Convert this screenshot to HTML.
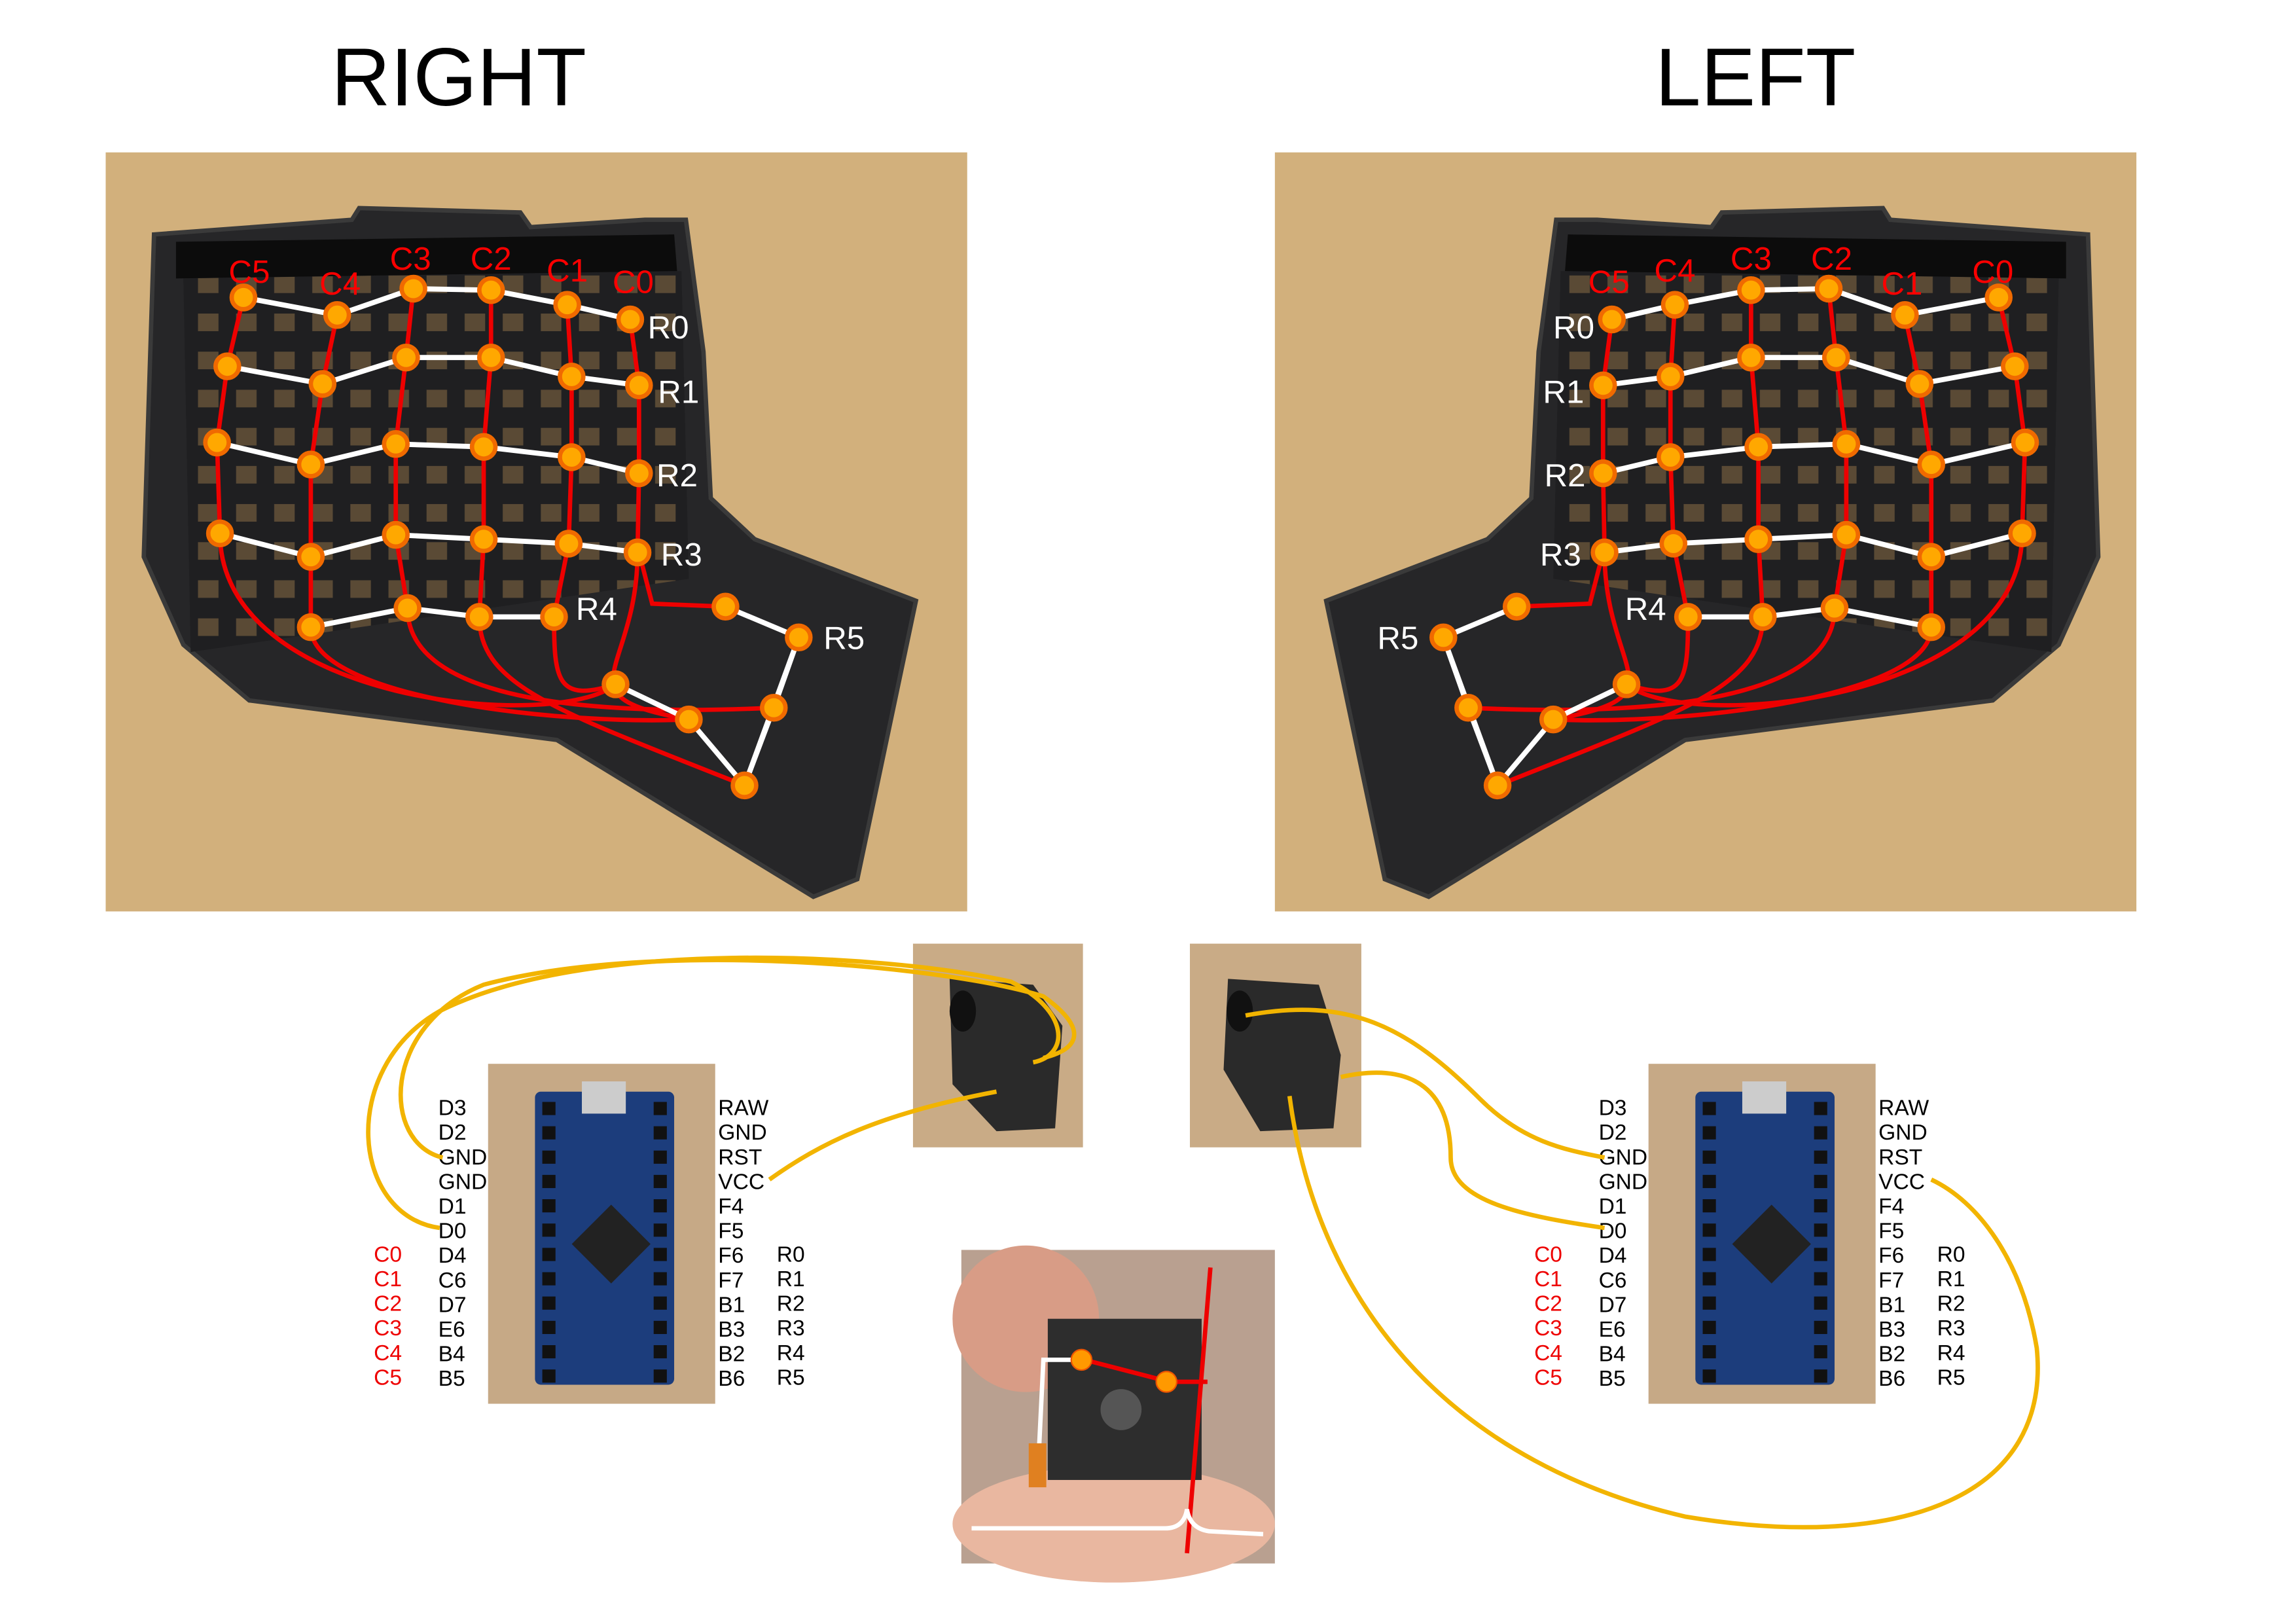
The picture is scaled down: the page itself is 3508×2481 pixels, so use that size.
<!DOCTYPE html>
<html><head><meta charset="utf-8"><style>
html,body{margin:0;padding:0;background:#fff}
svg{display:block}
text{font-family:"Liberation Sans",sans-serif}
</style></head><body>
<svg id="s" width="3508" height="2481" viewBox="0 0 1548 1095" xmlns="http://www.w3.org/2000/svg">
<defs>
<pattern id="grid" width="26" height="26" patternUnits="userSpaceOnUse"><rect width="26" height="26" fill="#1f1f21"/><rect x="5" y="6" width="14" height="12" fill="#5a4a35"/></pattern>
</defs>
<g transform="scale(0.988)">
<text x="313" y="72" font-size="56" text-anchor="middle">RIGHT</text>
<text x="1198" y="72" font-size="56" text-anchor="middle">LEFT</text>
<g id="photoR"></g>
<g id="photoL"></g>
<g>
<rect x="623" y="644" width="116" height="139" fill="#c9ab86"/>
<path d="M648 668 L705 672 L725 700 L720 770 L680 772 L650 740 Z" fill="#2a2a2a"/>
<ellipse cx="657" cy="690" rx="9" ry="14" fill="#111"/>
</g>
<g>
<rect x="812" y="644" width="117" height="139" fill="#c9ab86"/>
<path d="M838 668 L900 672 L915 720 L910 770 L860 772 L835 730 Z" fill="#2a2a2a"/>
<ellipse cx="846" cy="690" rx="9" ry="14" fill="#111"/>
</g>
<g>
<rect x="656" y="853" width="214" height="214" fill="#b9a090"/>
<ellipse cx="760" cy="1040" rx="110" ry="40" fill="#e9b7a0"/>
<ellipse cx="700" cy="900" rx="50" ry="50" fill="#d89c86"/>
<rect x="715" y="900" width="105" height="110" fill="#2d2d2d"/>
<circle cx="765" cy="962" r="14" fill="#555"/>
<line x1="826" y1="865" x2="810" y2="1060" stroke="#e00" stroke-width="3"/>
<line x1="740" y1="928" x2="798" y2="943" stroke="#e00" stroke-width="3"/>
<line x1="798" y1="943" x2="824" y2="943" stroke="#e00" stroke-width="3"/>
<polyline points="738,928 712,928 708,1010" fill="none" stroke="#fff" stroke-width="3"/>
<rect x="702" y="985" width="12" height="30" fill="#e08020"/>
<path d="M663 1043 L795 1043 Q808 1043 810 1030 Q812 1043 825 1045 L862 1047" fill="none" stroke="#fff" stroke-width="3"/>
<circle cx="738" cy="928" r="7" fill="#f90" stroke="#e50"/>
<circle cx="796" cy="943" r="7" fill="#f90" stroke="#e50"/>
</g>
<g id="boards"></g>
<g fill="none" stroke="#f2b400" stroke-width="3">
<path d="M300 838 C240 830 230 730 300 690 C400 640 600 650 690 670 C730 690 730 720 705 725"/>
<path d="M302 790 C260 780 260 700 330 672 C450 640 650 660 712 680 C740 700 740 715 712 722"/>
<path d="M525 805 C560 780 600 760 680 745"/>
<path d="M850 693 C920 680 960 700 1010 750 C1040 780 1070 785 1095 790"/>
<path d="M915 735 C960 725 990 740 990 790 C990 820 1040 830 1095 838"/>
<path d="M880 748 C900 900 1000 1000 1150 1035 C1300 1060 1400 1020 1390 920 C1380 860 1350 820 1318 805"/>
</g>
</g>
</svg>
<script>
const NS="http://www.w3.org/2000/svg";
function mk(tag,attrs,parent){const e=document.createElementNS(NS,tag);for(const k in attrs)e.setAttribute(k,attrs[k]);parent.appendChild(e);return e;}
const rowR0=[[166,203],[230,215],[282,197],[335,198],[387,208],[430,218]];
const rowR1=[[155,250],[220,262],[277,244],[335,244],[390,257],[436,263]];
const rowR2=[[148,302],[212,317],[270,303],[330,305],[390,312],[436,323]];
const rowR3=[[150,364],[212,380],[270,365],[330,368],[388,371],[435,377]];
const rowR4=[[212,428],[278,415],[327,421],[378,421]];
const thumbKeys=[[495,414],[545,435],[420,467],[470,491],[528,483],[508,536]];
const colLabels=["C5","C4","C3","C2","C1","C0"];
const colLabelPos=[[170,193],[232,201],[280,184],[335,184],[387,192],[432,200]];
const rowLabels=["R0","R1","R2","R3","R4","R5"];
const rowLabelPos=[[456,231],[463,275],[462,332],[465,386],[407,423],[576,443]];
const pinsLeft=["D3","D2","GND","GND","D1","D0","D4","C6","D7","E6","B4","B5"];
const pinsRight=["RAW","GND","RST","VCC","F4","F5","F6","F7","B1","B3","B2","B6"];
const colPins=["C0","C1","C2","C3","C4","C5"];
const rowPins=["R0","R1","R2","R3","R4","R5"];

function half(g,mirror,ox){
  const X=x=>mirror?1530-x:x;
  mk('rect',{x:ox,y:104,width:588,height:518,fill:'#d2b07c'},g);
  const cs=[[105,160],[240,150],[245,142],[355,145],[362,155],[440,150],[468,150],[480,240],[485,340],[515,368],[625,410],[585,600],[555,612],[380,505],[170,478],[125,440],[98,380]];
  mk('polygon',{points:cs.map(p=>X(p[0])+','+p[1]).join(' '),fill:'#262628',stroke:'#3a3a3a','stroke-width':3},g);
  mk('polygon',{points:[[125,190],[465,185],[470,395],[130,445]].map(p=>X(p[0])+','+p[1]).join(' '),fill:'url(#grid)'},g);
  mk('polygon',{points:[[120,165],[460,160],[462,185],[120,190]].map(p=>X(p[0])+','+p[1]).join(' '),fill:'#0c0c0c'},g);
  const rows=[rowR0,rowR1,rowR2,rowR3,rowR4];
  const W={fill:'none',stroke:'#fff','stroke-width':3.5};
  const R={fill:'none',stroke:'#e00','stroke-width':3};
  for(let c=0;c<6;c++){
    const pts=[];rows.forEach(r=>{const i=r.length===6?c:c-1;if(i>=0&&i<r.length)pts.push(r[i]);});
    const last=pts[pts.length-1];
    let d='M'+pts.map(p=>X(p[0])+' '+p[1]).join(' L');
    const t=thumbKeys[2+(c%4)];
    d+=` C${X(last[0])} ${480-c*4} ${X(380)} ${500-c*5} ${X(t[0])} ${t[1]}`;
    const p=mk('path',Object.assign({d},R),g);
    
    
  }
  mk('path',Object.assign({d:`M${X(436)} 377 L${X(445)} 412 L${X(495)} 414`},R),g);
  rows.forEach(r=>{
    const p=mk('polyline',Object.assign({points:r.map(q=>X(q[0])+','+q[1]).join(' ')},W),g);
    
    
  });
  const tk=thumbKeys;
  [[0,1],[1,4],[4,5],[2,3],[3,5],[1,5]].forEach(e=>{mk('line',Object.assign({x1:X(tk[e[0]][0]),y1:tk[e[0]][1],x2:X(tk[e[1]][0]),y2:tk[e[1]][1]},W),g);});
  rows.concat([tk]).forEach(r=>r.forEach(q=>{
    const c=mk('circle',{cx:X(q[0]),cy:q[1],r:8,fill:'#ffa800',stroke:'#f06a00','stroke-width':3},g);
    
    
  }));
  const labs=mirror?colLabels.slice().reverse():colLabels;
  labs.forEach((l,i)=>{
    const t=mk('text',{x:X(colLabelPos[i][0]),y:colLabelPos[i][1]-(mirror?0:0),'font-size':22,fill:'#f00','text-anchor':'middle'},g);t.textContent=l;
    
    
  });
  rowLabels.forEach((l,i)=>{
    const t=mk('text',{x:X(rowLabelPos[i][0]),y:rowLabelPos[i][1],'font-size':22,fill:'#fff','text-anchor':'middle'},g);t.textContent=l;
    
    
  });
}
half(document.getElementById('photoR'),false,72);
half(document.getElementById('photoL'),true,870);

function board(dx){
  const g=mk('g',{},document.getElementById('boards'));
  
  
  mk('rect',{x:333+dx,y:726,width:155,height:232,fill:'#c6a986'},g);
  mk('rect',{x:365+dx,y:745,width:95,height:200,fill:'#1c3d7c',rx:4},g);
  mk('rect',{x:397+dx,y:738,width:30,height:22,fill:'#ccc'},g);
  mk('rect',{x:398+dx,y:830,width:38,height:38,fill:'#222',transform:`rotate(45 ${417+dx} 849)`},g);
  for(let i=0;i<12;i++){
    mk('rect',{x:370+dx,y:752+i*16.6,width:9,height:9,fill:'#111'},g);
    mk('rect',{x:446+dx,y:752+i*16.6,width:9,height:9,fill:'#111'},g);
  }
  pinsLeft.forEach((p,i)=>{const t=mk('text',{x:299+dx,y:761+i*16.8,'font-size':15},g);t.textContent=p;
    
    });
  pinsRight.forEach((p,i)=>{const t=mk('text',{x:490+dx,y:761+i*16.8,'font-size':15},g);t.textContent=p;
    
    });
  colPins.forEach((p,i)=>{const t=mk('text',{x:255+dx,y:861+i*16.8,'font-size':15,fill:'#e00'},g);t.textContent=p;
    
    });
  rowPins.forEach((p,i)=>{const t=mk('text',{x:530+dx,y:861+i*16.8,'font-size':15},g);t.textContent=p;
    
    });
}
board(0);board(792);
</script>
</body></html>
